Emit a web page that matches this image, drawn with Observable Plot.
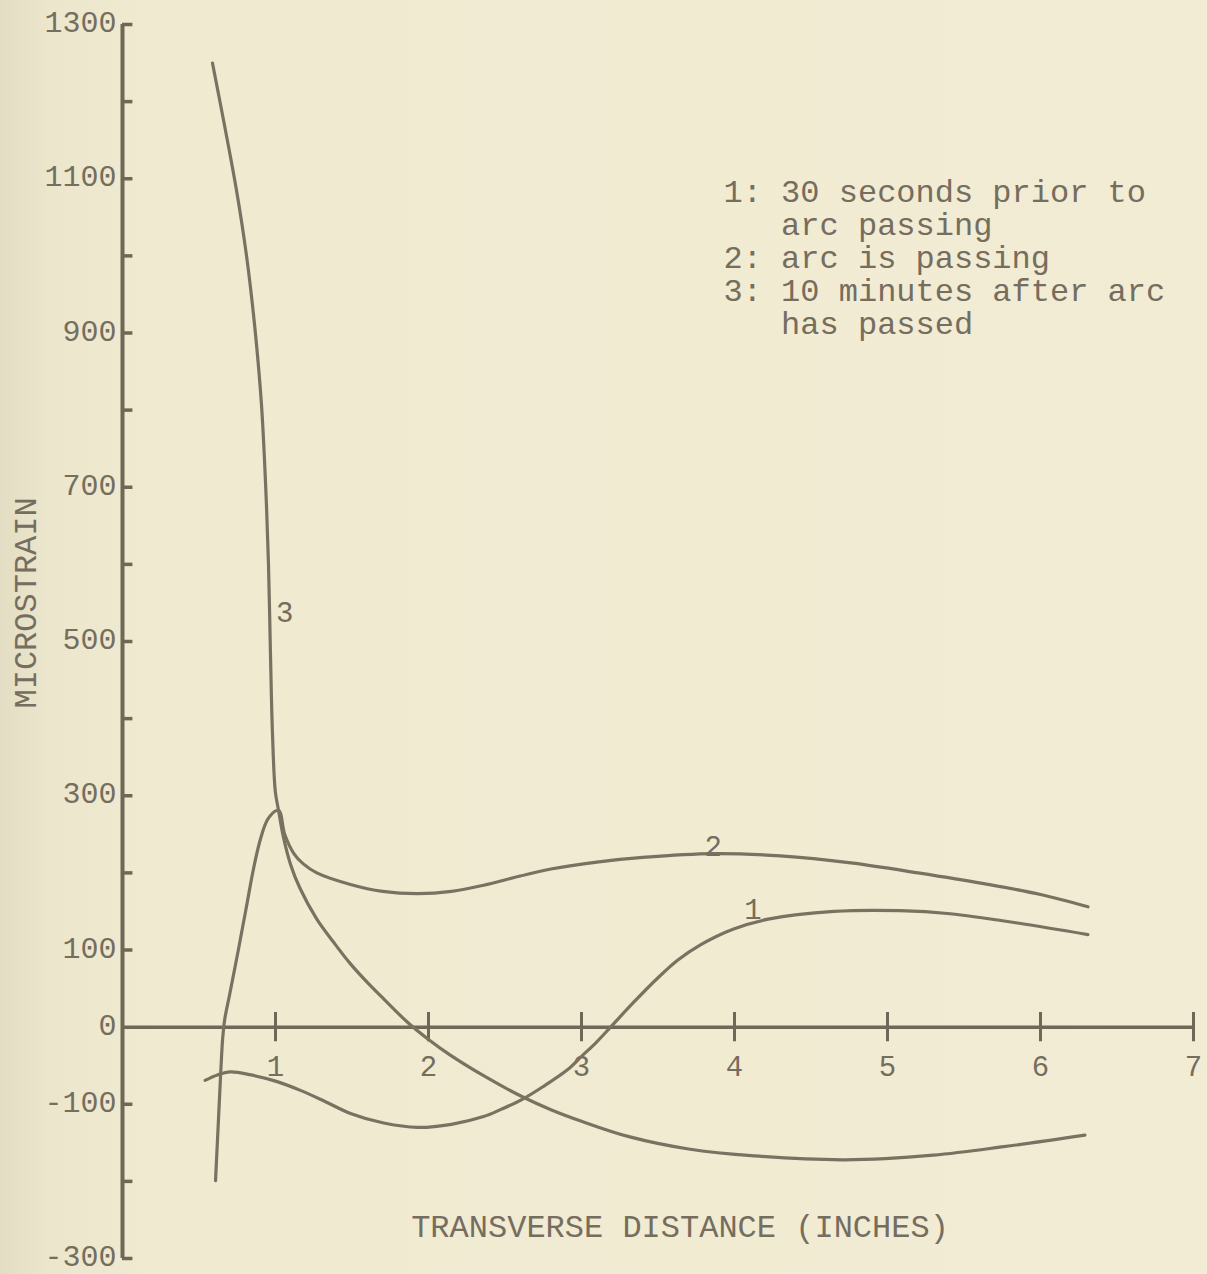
<!DOCTYPE html>
<html><head><meta charset="utf-8">
<script src="https://cdn.jsdelivr.net/npm/d3@7"></script>
<script src="https://cdn.jsdelivr.net/npm/@observablehq/plot@0.6"></script>
<style>
html,body{margin:0;padding:0;}
body{width:1207px;height:1274px;overflow:hidden;background:linear-gradient(90deg,#e2ddc3 0px,#ebe6cc 50px,#f0ead1 150px,#f2ecd4 100%);}
#chart svg{display:block;}
</style></head><body><div id="chart"></div>
<script>
// Curve 1: 30 seconds prior to arc passing
const curve1X = [0.54,0.62,0.706,0.84,1.0,1.163,1.33,1.49,1.7,1.93,2.15,2.36,2.47,2.61,2.75,2.91,3.0,3.1,3.19,3.34,3.5,3.63,3.78,3.99,4.22,4.65,5.08,5.41,5.85,6.31];
const curve1Y = [-69,-62,-58,-62,-70,-82,-97,-112,-124,-130,-126,-116,-107,-94,-77,-55,-38,-19,0,32,64,87,107,127,140,150,151,147,135,120];
// Curve 2: arc is passing
const curve2X = [0.608,0.627,0.643,0.655,0.668,0.70,0.758,0.81,0.856,0.902,0.954,1.02,1.06,1.12,1.18,1.27,1.49,1.7,1.93,2.15,2.36,2.6,2.8,3.1,3.4,3.86,4.3,4.76,5.2,5.63,6.0,6.31];
const curve2Y = [-199,-121,-55,-14,10,42,101,156,205,244,271,281,250,225,212,200,185,176,173,176,184,196,205,214,220,225,222,213,200,186,172,156];
// Curve 3: 10 minutes after arc has passed
const curve3X = [0.588,0.667,0.745,0.81,0.863,0.908,0.935,0.954,0.967,0.98,0.999,1.02,1.05,1.10,1.16,1.27,1.38,1.49,1.6,1.71,1.87,2.0,2.14,2.36,2.61,2.8,3.0,3.31,3.7,4.13,4.72,5.3,5.76,6.29];
const curve3Y = [1250,1169,1085,1001,911,808,705,601,485,382,305,281,248,210,180,140,110,82,58,36,5,-16,-36,-63,-90,-107,-122,-142,-158,-167,-172,-166,-155,-140];

const seriesIds = ["1","2","3"];
const seriesX = [curve1X, curve2X, curve3X];
const seriesY = [curve1Y, curve2Y, curve3Y];

const yTickValues = [-300,-200,-100,100,200,300,400,500,600,700,800,900,1000,1100,1200,1300];
const yTickLabels = [1300,1100,900,700,500,300,100,0,-100,-300];
const xTickValues = [1,2,3,4,5,6,7];

const curveLabels = ["3","2","1"];
const curveLabelX = [1.06,3.86,4.12];
const curveLabelY = [537,234,152];

const legendLines = [
  "1: 30 seconds prior to",
  "\u00a0\u00a0\u00a0arc passing",
  "2: arc is passing",
  "3: 10 minutes after arc",
  "\u00a0\u00a0\u00a0has passed"
];
const xTitle = "TRANSVERSE DISTANCE (INCHES)";
const yTitle = "MICROSTRAIN";

const lineData = seriesIds.flatMap((id, k) => seriesX[k].map((x, i) => ({series: id, x, y: seriesY[k][i]})));
const labelData = curveLabels.map((t, i) => ({t, x: curveLabelX[i], y: curveLabelY[i]}));

const ink = "#6f6757";
const lineInk = "#7a7161";
const textInk = "#756d5e";

const chart = Plot.plot({
  width: 1207,
  height: 1274,
  marginLeft: 122,
  marginRight: 14,
  marginTop: 24,
  marginBottom: 16,
  x: {domain: [0, 7], axis: null},
  y: {domain: [-300, 1300], axis: null},
  style: {background: "transparent", fontFamily: "'Liberation Mono', 'DejaVu Sans Mono', monospace", color: textInk},
  marks: [
    // axes
    Plot.ruleY([0], {x1: 0, x2: 7, stroke: ink, strokeWidth: 3.5}),
    Plot.ruleX([0], {y1: -300, y2: 1300, stroke: ink, strokeWidth: 4}),
    Plot.ruleY(yTickValues, {y: d => d, x1: 0, x2: 0.068, stroke: ink, strokeWidth: 3.5}),
    Plot.ruleX(xTickValues, {x: d => d, y1: -19, y2: 19, stroke: ink, strokeWidth: 3}),
    Plot.text(yTickLabels, {x: 0, y: d => d, text: d => String(d), textAnchor: "end", dx: -6, dy: -2, fontSize: 30, fill: textInk}),
    Plot.text(xTickValues, {x: d => d, y: 0, text: d => String(d), dy: 40, fontSize: 29, fill: textInk}),
    // curves
    Plot.line(lineData, {x: "x", y: "y", z: "series", curve: "catmull-rom", stroke: lineInk, strokeWidth: 3.2}),
    // curve labels
    Plot.text(labelData, {x: "x", y: "y", text: "t", fontSize: 29, fill: textInk}),
    // legend
    Plot.text([legendLines.join("\n")], {frameAnchor: "top-left", dx: 601, dy: 154, textAnchor: "start", lineAnchor: "top", lineHeight: 1.03, fontSize: 32, fill: textInk}),
    // titles
    Plot.text([xTitle], {frameAnchor: "bottom", dx: 22, dy: -22, fontSize: 32, fill: textInk}),
    Plot.text([yTitle], {frameAnchor: "left", dx: -97, dy: 67, rotate: -90, fontSize: 32, fill: textInk})
  ]
});
document.getElementById("chart").appendChild(chart);
</script>
</body></html>
